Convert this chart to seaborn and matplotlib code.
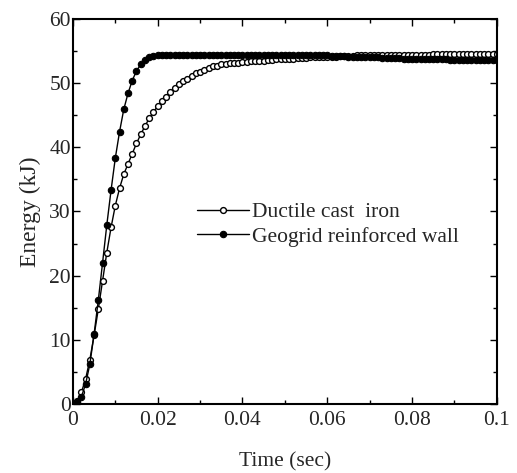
import numpy as np
import pandas as pd
import matplotlib
matplotlib.use("Agg")
import matplotlib.pyplot as plt
import seaborn as sns
from matplotlib.ticker import MultipleLocator

# Time samples (s)
time_s = [round(0.001 * i, 3) for i in range(101)]

# Absorbed energy (kJ), ductile cast iron barrier
ductile = [
    0.0, 0.4, 1.8, 3.9, 6.9, 10.7, 14.8, 19.2, 23.6, 27.5,
    30.9, 33.6, 35.8, 37.4, 39.0, 40.6, 42.0, 43.3, 44.5, 45.5,
    46.4, 47.2, 47.9, 48.6, 49.3, 49.8, 50.3, 50.7, 51.1, 51.5,
    51.8, 52.1, 52.3, 52.6, 52.7, 52.9, 53.0, 53.1, 53.2, 53.2,
    53.3, 53.3, 53.4, 53.4, 53.5, 53.5, 53.6, 53.6, 53.7, 53.7,
    53.8, 53.8, 53.8, 53.9, 53.9, 53.9, 54.0, 54.0, 54.0, 54.1,
    54.1, 54.1, 54.1, 54.2, 54.2, 54.2, 54.2, 54.3, 54.3, 54.3,
    54.3, 54.3, 54.3, 54.4, 54.4, 54.4, 54.4, 54.4, 54.4, 54.4,
    54.4, 54.4, 54.4, 54.4, 54.4, 54.5, 54.5, 54.5, 54.5, 54.5,
    54.5, 54.5, 54.5, 54.5, 54.5, 54.5, 54.5, 54.5, 54.5, 54.5,
    54.5,
]

# Absorbed energy (kJ), geogrid reinforced wall
geogrid = [
    0.0, 0.3, 1.1, 3.1, 6.2, 10.9, 16.2, 22.0, 27.9, 33.3,
    38.3, 42.4, 45.9, 48.4, 50.4, 51.9, 52.9, 53.6, 54.0, 54.2,
    54.3, 54.4, 54.4, 54.4, 54.4, 54.4, 54.4, 54.4, 54.4, 54.4,
    54.4, 54.4, 54.4, 54.4, 54.4, 54.4, 54.4, 54.4, 54.4, 54.4,
    54.4, 54.4, 54.4, 54.4, 54.4, 54.4, 54.4, 54.4, 54.4, 54.4,
    54.4, 54.4, 54.4, 54.4, 54.4, 54.4, 54.3, 54.3, 54.3, 54.3,
    54.3, 54.2, 54.2, 54.2, 54.2, 54.1, 54.1, 54.1, 54.1, 54.0,
    54.0, 54.0, 54.0, 53.9, 53.9, 53.9, 53.9, 53.9, 53.8, 53.8,
    53.8, 53.8, 53.8, 53.7, 53.7, 53.7, 53.7, 53.7, 53.7, 53.6,
    53.6, 53.6, 53.6, 53.6, 53.6, 53.6, 53.6, 53.6, 53.6, 53.6,
    53.6,
]

series_names = ["Ductile cast  iron", "Geogrid reinforced wall"]
x_ticks = [0, 0.02, 0.04, 0.06, 0.08, 0.1]
x_tick_labels = ["0", "0.02", "0.04", "0.06", "0.08", "0.1"]

sns.set_theme(style="ticks")
plt.rcParams["font.family"] = ["Liberation Serif", "DejaVu Serif"]

fig = plt.figure(figsize=(5.17, 4.73), dpi=100)
ax = fig.add_axes([0.141, 0.146, 0.820, 0.814])

df = pd.DataFrame({"t": time_s, "ductile": ductile, "geogrid": geogrid})

sns.lineplot(data=df, x="t", y="ductile", ax=ax, color="black", linewidth=1.0,
             marker="o", markersize=4.2, markerfacecolor="white",
             markeredgecolor="black", markeredgewidth=1.0,
             label=series_names[0])
sns.lineplot(data=df, x="t", y="geogrid", ax=ax, color="black", linewidth=1.0,
             marker="o", markersize=4.6, markerfacecolor="black",
             markeredgecolor="black", markeredgewidth=0.8,
             label=series_names[1])

ax.set_xlim(0, 0.1)
ax.set_ylim(0, 60)
ax.set_xticks(x_ticks)
ax.set_xticklabels(x_tick_labels)
ax.xaxis.set_minor_locator(MultipleLocator(0.01))
ax.yaxis.set_major_locator(MultipleLocator(10))
ax.yaxis.set_minor_locator(MultipleLocator(5))

ax.tick_params(which="both", direction="in", top=True, right=True,
               labelsize=15.5, color="black")
ax.tick_params(axis="x", pad=5)
ax.tick_params(axis="y", pad=1.5)
ax.tick_params(which="major", length=5, width=1.0)
ax.tick_params(which="minor", length=3, width=1.0)
for sp in ax.spines.values():
    sp.set_linewidth(1.5)
    sp.set_color("black")

ax.set_xlabel("Time (sec)", fontsize=15.5, labelpad=16)
ax.set_ylabel("Energy (kJ)", fontsize=17, labelpad=6)

ax.legend(loc="center left", bbox_to_anchor=(0.268, 0.466), frameon=False,
          fontsize=15.5, handlelength=2.4, handletextpad=0.15,
          labelspacing=0.2, borderpad=0)

fig.savefig("out.png", dpi=100, facecolor="white")
